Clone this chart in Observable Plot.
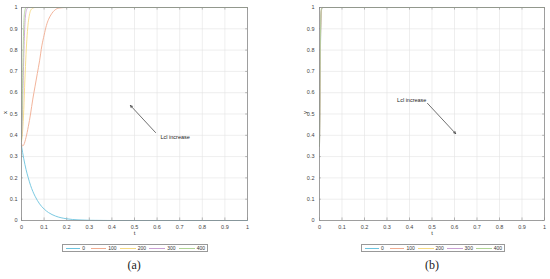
<!DOCTYPE html>
<html>
<head>
<meta charset="utf-8">
<script src="https://cdn.jsdelivr.net/npm/d3@7"></script>
<script src="https://cdn.jsdelivr.net/npm/@observablehq/plot@0.6"></script>
<style>
  body { margin: 0; background: #fff; }
  #root { position: relative; width: 550px; height: 279px; background: #fff; overflow: hidden; font-family: "Liberation Sans", Arial, sans-serif; }
  .panel { position: absolute; top: 0; }
  .legend { position: absolute; top: 244px; height: 6px; border: 0.8px solid #999; background: #fff; display: flex; align-items: center; font-size: 5px; color: #333; padding: 0 1px; box-sizing: content-box; }
  .legend .sw { display: inline-block; height: 0; border-top: 1px solid; margin: 0 2px 0 2px; }
  .legend .lb { display: inline-block; }
  .cap { position: absolute; top: 258px; font-family: "Liberation Serif", "DejaVu Serif", serif; font-size: 12px; color: #222; }
</style>
</head>
<body>
<div id="root"></div>
<script>
// ---- data ----
const seriesNames = ["0", "100", "200", "300", "400"];
const seriesColors = ["#6cc3de", "#f1ac90", "#f5d982", "#c9a0d4", "#b0d494"];
const xTicks = [0, 0.1, 0.2, 0.3, 0.4, 0.5, 0.6, 0.7, 0.8, 0.9, 1];
const yTicks = [0, 0.1, 0.2, 0.3, 0.4, 0.5, 0.6, 0.7, 0.8, 0.9, 1];

// panel (a): x over time
const a0T = [0, 0.01, 0.02, 0.03, 0.04, 0.05, 0.06, 0.08, 0.10, 0.12, 0.15, 0.20, 0.25, 0.30, 0.40, 0.60, 0.80, 1.0];
const a0V = [0.35, 0.29, 0.24, 0.20, 0.165, 0.137, 0.114, 0.078, 0.054, 0.037, 0.021, 0.008, 0.003, 0.001, 0, 0, 0, 0];
const a1T = [0, 0.005, 0.01, 0.02, 0.03, 0.04, 0.05, 0.06, 0.07, 0.08, 0.09, 0.10, 0.11, 0.12, 0.13, 0.14, 0.15, 0.17, 0.20, 0.40, 1.0];
const a1V = [0.36, 0.35, 0.355, 0.39, 0.44, 0.50, 0.57, 0.63, 0.69, 0.75, 0.82, 0.87, 0.915, 0.945, 0.965, 0.98, 0.99, 0.998, 1, 1, 1];
const a2T = [0, 0.005, 0.01, 0.015, 0.02, 0.025, 0.03, 0.035, 0.04, 0.05, 0.06, 0.2, 1.0];
const a2V = [0.37, 0.42, 0.52, 0.66, 0.78, 0.87, 0.93, 0.965, 0.985, 0.997, 1, 1, 1];
const a3T = [0, 0.004, 0.008, 0.012, 0.016, 0.02, 0.025, 0.03, 0.2, 1.0];
const a3V = [0.38, 0.50, 0.68, 0.84, 0.94, 0.98, 0.995, 1, 1, 1];
const a4T = [0, 0.003, 0.006, 0.009, 0.012, 0.016, 0.02, 0.2, 1.0];
const a4V = [0.38, 0.52, 0.72, 0.88, 0.96, 0.99, 1, 1, 1];

// panel (b): y over time
const bT = [0, 0.002, 0.004, 0.006, 0.008, 0.01, 0.013, 0.02, 1.0];
const b0V = [0.35, 0.55, 0.78, 0.92, 0.975, 0.993, 1, 1, 1];
const b1V = [0.35, 0.57, 0.80, 0.93, 0.98, 0.995, 1, 1, 1];
const b2V = [0.35, 0.59, 0.82, 0.94, 0.985, 0.996, 1, 1, 1];
const b3V = [0.35, 0.61, 0.84, 0.95, 0.988, 0.997, 1, 1, 1];
const b4V = [0.35, 0.63, 0.86, 0.96, 0.99, 0.998, 1, 1, 1];

// annotations: [tail t, tail value, head t, head value], text [t, value]
const annoA = {arrow: [0.593, 0.413, 0.482, 0.54], text: [0.68, 0.39], label: "Lcl increase"};
const annoB = {arrow: [0.48, 0.55, 0.605, 0.408], text: [0.41, 0.563], label: "Lcl increase"};

// ---- build tables ----
const dataA = [
  ...a0T.map((t, i) => ({t, v: a0V[i], s: "0"})),
  ...a1T.map((t, i) => ({t, v: a1V[i], s: "100"})),
  ...a2T.map((t, i) => ({t, v: a2V[i], s: "200"})),
  ...a3T.map((t, i) => ({t, v: a3V[i], s: "300"})),
  ...a4T.map((t, i) => ({t, v: a4V[i], s: "400"}))
];
const bVals = [b0V, b1V, b2V, b3V, b4V];
const dataB = seriesNames.flatMap((s, k) => bT.map((t, i) => ({t, v: bVals[k][i], s})));

const fmt = d => String(+d.toFixed(1));

function panel(data, yLabel, anno, m) {
  return Plot.plot({
    width: 275, height: 238,
    marginLeft: m.left, marginRight: m.right, marginTop: 7, marginBottom: 18,
    style: {fontFamily: "Liberation Sans, Arial, sans-serif", fontSize: "5.5px", color: "#444", background: "transparent", overflow: "visible"},
    x: {domain: [0, 1], label: null},
    y: {domain: [0, 1], label: null},
    color: {domain: seriesNames, range: seriesColors},
    marks: [
      Plot.gridX(xTicks, {stroke: "#e3e3e3", strokeOpacity: 1, strokeWidth: 0.6}),
      Plot.gridY(yTicks, {stroke: "#e3e3e3", strokeOpacity: 1, strokeWidth: 0.6}),
      Plot.ruleX(xTicks, {x: d => d, y1: 0, y2: 0.012, stroke: "#777", strokeWidth: 0.5}),
      Plot.ruleX(xTicks, {x: d => d, y1: 0.988, y2: 1, stroke: "#777", strokeWidth: 0.5}),
      Plot.ruleY(yTicks, {y: d => d, x1: 0, x2: 0.008, stroke: "#777", strokeWidth: 0.5}),
      Plot.ruleY(yTicks, {y: d => d, x1: 0.992, x2: 1, stroke: "#777", strokeWidth: 0.5}),
      Plot.line(data, {x: "t", y: "v", z: "s", stroke: "s", strokeWidth: 0.9, curve: "monotone-x"}),
      Plot.frame({stroke: "#8a8a8a", strokeWidth: 0.8}),
      Plot.axisX(xTicks, {tickSize: 0, tickPadding: 5, tickFormat: fmt, label: null}),
      Plot.axisY(yTicks, {tickSize: 0, tickPadding: m.pad, tickFormat: fmt, label: null}),
      Plot.text(["t"], {frameAnchor: "bottom", dy: 14, text: d => d, fontSize: 6, fill: "#333"}),
      Plot.text([yLabel], {frameAnchor: "left", dx: m.labelDx, text: d => d, rotate: -90, fontSize: 6, fill: "#333"}),
      Plot.arrow([anno.arrow], {x1: d => d[0], y1: d => d[1], x2: d => d[2], y2: d => d[3], stroke: "#333", strokeWidth: 0.7, headLength: 5, headAngle: 50}),
      Plot.text([anno.text], {x: d => d[0], y: d => d[1], text: () => anno.label, fontSize: 5.5, fill: "#222"})
    ]
  });
}

const root = document.getElementById("root");

function addPanel(left, svg) {
  const d = document.createElement("div");
  d.className = "panel";
  d.style.left = left + "px";
  d.appendChild(svg);
  root.appendChild(d);
}

addPanel(0, panel(dataA, "x", annoA, {left: 21, right: 28, pad: 4, labelDx: -16}));
addPanel(275, panel(dataB, "y", annoB, {left: 44, right: 6, pad: 5, labelDx: -14}));

function addLegend(left, width) {
  const lg = document.createElement("div");
  lg.className = "legend";
  lg.style.left = left + "px";
  lg.style.width = width + "px";
  const swW = [15, 16, 17, 17, 17];
  seriesNames.forEach((s, i) => {
    const sw = document.createElement("span");
    sw.className = "sw";
    sw.style.width = swW[i] + "px";
    sw.style.borderColor = seriesColors[i];
    lg.appendChild(sw);
    const lb = document.createElement("span");
    lb.className = "lb";
    lb.textContent = s;
    lb.style.marginRight = (i === 0 ? 4 : 1) + "px";
    lg.appendChild(lb);
  });
  root.appendChild(lg);
}
addLegend(62, 142);
addLegend(361, 140);

function addCaption(cx, txt) {
  const c = document.createElement("div");
  c.className = "cap";
  c.textContent = txt;
  root.appendChild(c);
  c.style.left = (cx - c.offsetWidth / 2) + "px";
}
addCaption(134, "(a)");
addCaption(432, "(b)");
</script>
</body>
</html>
